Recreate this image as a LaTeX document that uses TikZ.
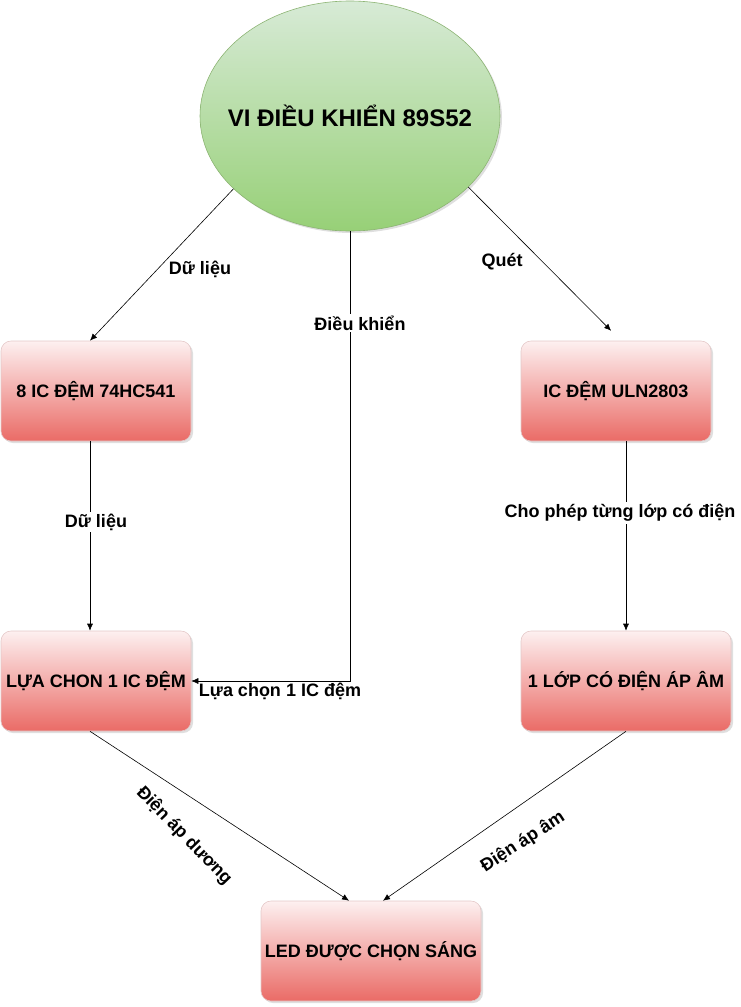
\documentclass[tikz,border=0pt]{standalone}
\usepackage{fontspec}
\setmainfont{Liberation Sans}
\usetikzlibrary{shapes.geometric,shadows,arrows.meta}
\definecolor{boxtop}{RGB}{253,240,240}
\definecolor{boxbot}{RGB}{234,107,102}
\definecolor{boxline}{RGB}{228,200,200}
\definecolor{mcutop}{RGB}{215,234,214}
\definecolor{mcubot}{RGB}{151,208,119}
\definecolor{mculine}{RGB}{140,180,115}

\begin{document}
\begin{tikzpicture}[
 x=1pt, y=-1pt,
 line width=0.6pt,
 >={Latex[length=7pt,width=6pt]},
 block/.style={
  draw=boxline,
  rectangle,
  rounded corners=10pt,
  minimum height=100pt,
  inner sep=0pt,
  top color=boxtop,
  bottom color=boxbot,
  drop shadow={shadow xshift=2pt,shadow yshift=-2pt,opacity=0.25},
  font=\fontsize{18}{21}\selectfont\bfseries,
 },
 mcu/.style={
  draw=mculine,
  ellipse,
  minimum width=300pt,
  minimum height=230pt,
  inner sep=0pt,
  top color=mcutop,
  bottom color=mcubot,
  drop shadow={shadow xshift=2pt,shadow yshift=-2pt,opacity=0.25},
 },
 lbl/.style={
  inner sep=2pt,
  font=\fontsize{18}{21}\selectfont\bfseries,
 }
]

\useasboundingbox (0,0) rectangle (741,1007);

\node at (350,116) [mcu, label={[font=\fontsize{24}{27}\selectfont\bfseries]center:VI ĐIỀU KHIỂN 89S52}] (mcu) {};

\node at (96,391) [block, minimum width=190pt] (dem) {8 IC ĐỆM 74HC541};
\node at (616,391) [block, minimum width=190pt] (uln) {IC ĐỆM ULN2803};
\node at (96,681) [block, minimum width=190pt] (luachon) {LỰA CHON 1 IC ĐỆM};
\node at (626,681) [block, minimum width=210pt] (lop) {1 LỚP CÓ ĐIỆN ÁP ÂM};
\node at (371,951) [block, minimum width=220pt] (led) {LED ĐƯỢC CHỌN SÁNG};

\draw[->] (mcu.212) -- ([xshift=-6pt]dem.north);
\draw[->,shorten >=14pt] (mcu.329) -- ([xshift=5pt]uln.north);
\draw[->] (mcu.south) |- (luachon.east);

\draw[->] ([xshift=-6pt]dem.south) -- ([xshift=-6pt]luachon.north);
\draw[->] (lop.north |- uln.south) -- (lop.north);

\draw[->] ([xshift=-6pt]luachon.south) -- ([xshift=-22pt]led.north);
\draw[->] (lop.south) -- ([xshift=12pt]led.north);

\node at (200,269) [lbl] (dulieu1) {Dữ liệu};
\node at (360,323) [lbl, fill=white] (dieukhien) {Điều khiển};
\node at (502,262) [lbl] (quet) {Quét};
\node at (96,522) [lbl, fill=white] (dulieu2) {Dữ liệu};
\node at (620,513) [lbl, fill=white] (chophep) {Cho phép từng lớp có điện};
\node at (280,691) [lbl] (luachonlbl) {Lựa chọn 1 IC đệm};
\node at (184,836) [lbl, rotate=-46] (duong) {Điện áp dương};
\node at (523,842) [lbl, rotate=33] (am) {Điện áp âm};

\end{tikzpicture}
\end{document}
